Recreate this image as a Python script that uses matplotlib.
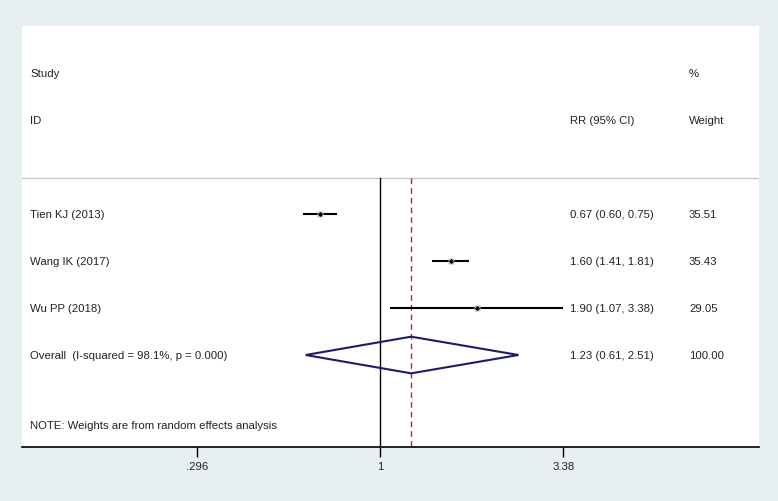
import numpy as np
import matplotlib.pyplot as plt
import matplotlib.transforms as mtransforms
from matplotlib.patches import Polygon

plt.rcParams['font.family'] = ['Liberation Sans', 'DejaVu Sans']

# data
studies = ["Tien KJ (2013)", "Wang IK (2017)", "Wu PP (2018)"]
rr = [0.67, 1.60, 1.90]
ci_lo = [0.60, 1.41, 1.07]
ci_hi = [0.75, 1.81, 3.38]
weights = [35.51, 35.43, 29.05]

overall_label = "Overall  (I-squared = 98.1%, p = 0.000)"
overall_rr = 1.23
overall_lo = 0.61
overall_hi = 2.51
overall_weight = 100.00

xticks = [0.296, 1.0, 3.38]
xtick_labels = [".296", "1", "3.38"]
note = "NOTE: Weights are from random effects analysis"

# layout (rows counted from top of the panel)
row_study_hdr = 1.0
row_id_hdr = 2.0
row_sep = 3.23
rows = [4.0, 5.0, 6.0]
row_overall = 7.0
row_note = 8.5

W, H = 778, 502
fig = plt.figure(figsize=(W / 100, H / 100), dpi=100, facecolor='#e8eff2')
left, right, top, bottom = 22, 759, 27, 448
ax = fig.add_axes([left / W, 1 - bottom / H, (right - left) / W, (bottom - top) / H])
ax.set_facecolor('white')

px_per_ln = 150.4
x0 = 380
ax.set_xscale('log')
ax.set_xlim(np.exp((left - x0) / px_per_ln), np.exp((right - x0) / px_per_ln))
ax.set_ylim((bottom - top) / 47.0, 0)

for s in ['top', 'left', 'right']:
    ax.spines[s].set_visible(False)
ax.spines['bottom'].set_color('black')
ax.spines['bottom'].set_linewidth(1.2)
ax.set_yticks([])
ax.set_xticks(xticks)
ax.set_xticklabels(xtick_labels)
ax.minorticks_off()

fs = 8.2
ax.tick_params(axis='x', length=7, width=1, color='black', labelsize=fs, pad=3,
               labelcolor='#222222')
tx = mtransforms.blended_transform_factory(ax.transAxes, ax.transData)
col_id = (30 - left) / (right - left)
col_rr = (570 - left) / (right - left)
col_w = (689 - left) / (right - left)
tc = '#222222'

def put(x, y, s):
    ax.text(x, y, s, transform=tx, fontsize=fs, va='center', color=tc)

# headers
put(col_id, row_study_hdr, "Study")
put(col_id, row_id_hdr, "ID")
put(col_w, row_study_hdr, "%")
put(col_rr, row_id_hdr, "RR (95% CI)")
put(col_w, row_id_hdr, "Weight")
ax.plot([0, 1], [row_sep, row_sep], transform=tx, color='#c8c8c8', lw=1)

# null line and overall line
ybot = ax.get_ylim()[0]
ax.plot([1, 1], [row_sep, ybot], color='black', lw=1)
ax.plot([overall_rr, overall_rr], [row_sep, ybot], color='#c0203a',
        lw=1.0, ls=(0, (4, 3)))

# studies
for name, y, m, lo, hi, w in zip(studies, rows, rr, ci_lo, ci_hi, weights):
    ax.plot([lo, hi], [y, y], color='black', lw=1.5, solid_capstyle='butt', zorder=2)
    ax.plot(m, y, marker='s', ms=np.sqrt(w) * 0.8, color='#bdbdbd', mec='none', zorder=3)
    ax.plot(m, y, marker='D', ms=2.6, color='black', mec='none', zorder=4)
    put(col_id, y, name)
    put(col_rr, y, f"{m:.2f} ({lo:.2f}, {hi:.2f})")
    put(col_w, y, f"{w:.2f}")

# overall diamond
dh = 0.39
diamond = Polygon([[overall_lo, row_overall], [overall_rr, row_overall - dh],
                   [overall_hi, row_overall], [overall_rr, row_overall + dh]],
                  closed=True, fill=False, edgecolor='#1c1c6b', lw=1.5, zorder=3)
ax.add_patch(diamond)
put(col_id, row_overall, overall_label)
put(col_rr, row_overall, f"{overall_rr:.2f} ({overall_lo:.2f}, {overall_hi:.2f})")
put(col_w, row_overall, f"{overall_weight:.2f}")

put(col_id, row_note, note)

fig.savefig('out.png', dpi=100, facecolor=fig.get_facecolor())
